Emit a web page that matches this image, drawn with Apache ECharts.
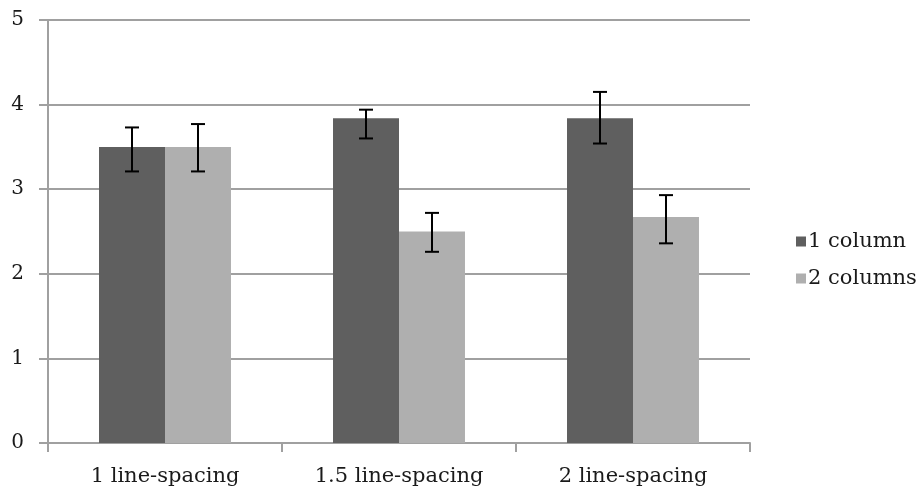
<!DOCTYPE html>
<html><head><meta charset="utf-8">
<script src="https://cdn.jsdelivr.net/npm/echarts@6/dist/echarts.min.js"></script>
<style>html,body{margin:0;padding:0;background:#fff}#c{width:923px;height:495px}</style>
</head><body><div id="c"></div>
<script>
const categories = ['1 line-spacing', '1.5 line-spacing', '2 line-spacing'];
const seriesNames = ['1 column', '2 columns'];
const oneColumn = [3.50, 3.84, 3.84];
const oneColumnLow = [3.21, 3.60, 3.54];
const oneColumnHigh = [3.73, 3.94, 4.15];
const twoColumns = [3.50, 2.50, 2.67];
const twoColumnsLow = [3.21, 2.26, 2.36];
const twoColumnsHigh = [3.77, 2.72, 2.93];
const yTicks = [0, 1, 2, 3, 4, 5];

const FONT = 'DejaVu Serif';
const catGap = 0.436;
const colors = ['#5f5f5f', '#afafaf'];

function errSeries(low, high, idx) {
  return {
    type: 'custom',
    z: 10,
    data: categories.map((c, i) => [i, low[i], high[i]]),
    renderItem: function (params, api) {
      const catW = api.size([1, 0])[0];
      const barW = catW * (1 - catGap) / 2;
      const off = (idx === 0 ? -1 : 1) * barW / 2;
      const lo = api.coord([api.value(0), api.value(1)]);
      const hi = api.coord([api.value(0), api.value(2)]);
      const x = lo[0] + off;
      const cap = 7;
      const st = { stroke: '#000', lineWidth: 2 };
      return {
        type: 'group',
        children: [
          { type: 'line', shape: { x1: x, y1: lo[1], x2: x, y2: hi[1] }, style: st },
          { type: 'line', shape: { x1: x - cap, y1: lo[1], x2: x + cap, y2: lo[1] }, style: st },
          { type: 'line', shape: { x1: x - cap, y1: hi[1], x2: x + cap, y2: hi[1] }, style: st }
        ]
      };
    }
  };
}

const chart = echarts.init(document.getElementById('c'));
chart.setOption({
  animation: false,
  backgroundColor: '#fff',
  grid: { left: 48, right: 173, top: 20, bottom: 52, containLabel: false },
  legend: {
    orient: 'vertical',
    left: 791,
    top: 226,
    itemWidth: 10,
    itemHeight: 10,
    itemGap: 16,
    icon: 'rect',
    data: seriesNames,
    textStyle: { fontFamily: FONT, fontSize: 21, color: '#1a1a1a', padding: [0, 0, 0, -3] }
  },
  xAxis: {
    type: 'category',
    data: categories,
    axisLine: { lineStyle: { color: '#a0a0a0', width: 2 } },
    axisTick: { show: true, length: 9, lineStyle: { color: '#a0a0a0', width: 2 } },
    axisLabel: { margin: 23, fontFamily: FONT, fontSize: 21, color: '#1a1a1a' }
  },
  yAxis: {
    type: 'value',
    min: yTicks[0],
    max: yTicks[yTicks.length - 1],
    interval: 1,
    axisLine: { show: true, lineStyle: { color: '#a0a0a0', width: 2 } },
    axisTick: { show: true, length: 9, lineStyle: { color: '#a0a0a0', width: 2 } },
    splitLine: { lineStyle: { color: '#a0a0a0', width: 2 } },
    axisLabel: { margin: 24, fontFamily: FONT, fontSize: 20, color: '#1a1a1a' }
  },
  series: [
    { name: seriesNames[0], type: 'bar', data: oneColumn, barGap: '0%', barCategoryGap: (catGap * 100) + '%',
      itemStyle: { color: colors[0] } },
    { name: seriesNames[1], type: 'bar', data: twoColumns, barGap: '0%', barCategoryGap: (catGap * 100) + '%',
      itemStyle: { color: colors[1] } },
    errSeries(oneColumnLow, oneColumnHigh, 0),
    errSeries(twoColumnsLow, twoColumnsHigh, 1)
  ]
});
</script></body></html>
